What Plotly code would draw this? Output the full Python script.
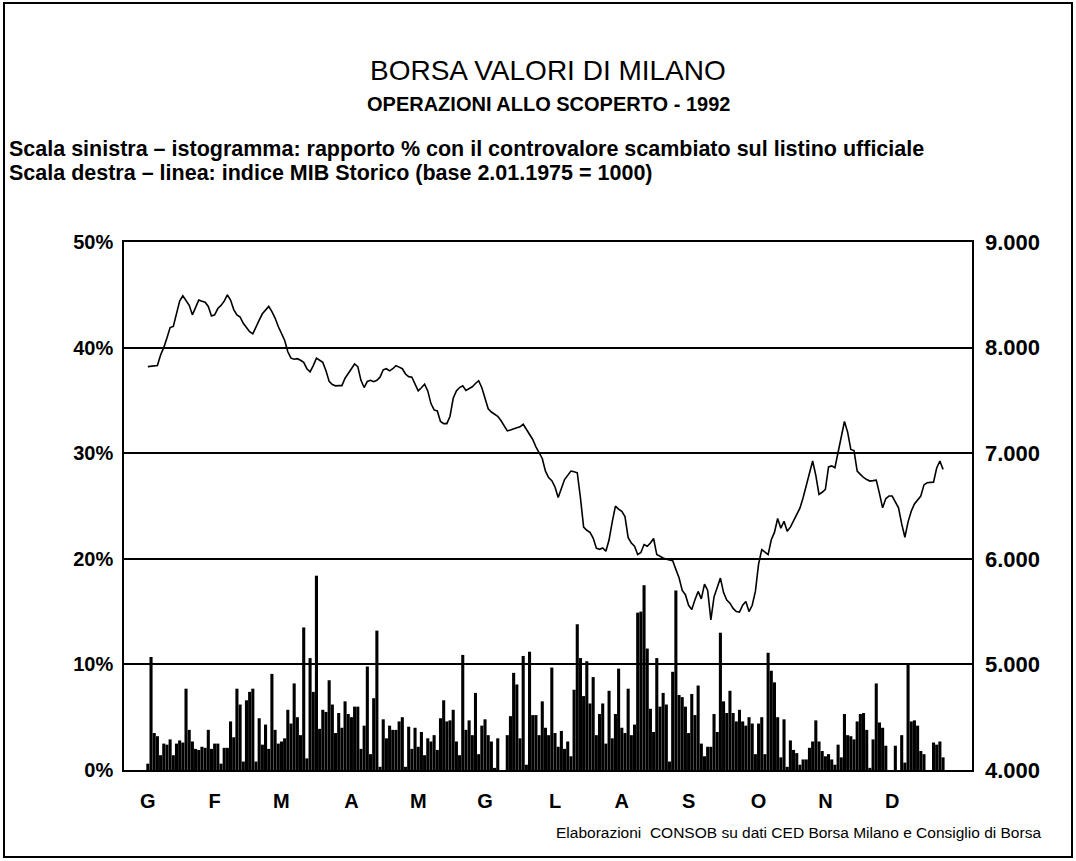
import plotly.graph_objects as go

# Month initials (Italian) and the index of the first trading day of each month
months = ["G", "F", "M", "A", "M", "G", "L", "A", "S", "O", "N", "D"]
month_first_day = [0, 21, 42, 64, 85, 106, 128, 149, 170, 192, 213, 234]

# Short selling as % of the value traded on the official list (left scale)
short_pct = [
    0.6, 10.7, 3.5, 3.2, 1.4, 2.5, 2.4, 2.9, 1.4, 2.5,
    2.8, 2.6, 7.7, 3.8, 2.7, 2.0, 1.9, 2.2, 2.1, 3.8,
    2.0, 2.5, 2.5, 0.6, 2.1, 2.1, 4.6, 3.1, 7.7, 6.2,
    0.8, 6.6, 7.4, 7.7, 0.8, 4.9, 2.4, 4.3, 2.0, 9.1,
    3.8, 2.5, 2.7, 3.0, 5.7, 4.4, 8.2, 5.0, 3.3, 13.5,
    1.1, 10.6, 7.4, 18.4, 3.9, 5.7, 5.5, 8.5, 6.2, 3.5,
    5.4, 4.0, 6.5, 5.3, 5.0, 6.0, 6.0, 2.0, 4.2, 9.8,
    1.5, 6.8, 13.2, 0.3, 4.8, 3.0, 4.2, 3.8, 3.8, 4.6,
    5.0, 0.3, 4.1, 2.0, 4.0, 2.2, 3.6, 1.4, 3.0, 2.7,
    3.3, 1.9, 4.9, 6.6, 4.6, 4.7, 5.7, 2.7, 1.4, 10.9,
    3.8, 4.7, 3.3, 7.3, 1.5, 4.2, 4.8, 3.3, 2.7, 0.2,
    3.0, 0.0, 0.0, 3.3, 5.1, 9.2, 8.1, 3.0, 10.8, 0.5,
    11.2, 5.2, 5.2, 3.3, 6.5,
    4.0, 3.3, 9.7, 3.5, 2.2, 3.7, 2.0, 2.7, 1.3, 7.6,
    13.8, 10.6, 7.0, 10.3, 6.3, 8.8, 3.3, 5.3, 6.3, 2.5,
    7.5, 3.0, 5.3, 9.6, 4.0, 3.5, 7.7, 3.3, 4.3, 14.9,
    15.0, 17.5, 11.5, 5.8, 3.6, 10.6, 6.0, 7.3, 6.2, 0.8,
    9.3, 17.0, 7.1, 6.9, 6.0, 3.5, 7.2, 5.2, 8.0, 2.5,
    1.3, 2.2, 2.2, 5.3, 3.6, 13.0, 6.5, 5.4, 7.5, 5.4,
    4.6, 5.7, 4.6,
    4.2, 5.0, 4.4, 1.5, 4.4, 5.0, 1.5, 11.1, 9.4, 8.3,
    5.0, 1.2, 4.8, 0.3, 2.8, 1.9, 1.6, 0.5, 1.0, 1.0,
    2.1, 2.7, 4.7, 2.7, 1.8, 1.3, 1.5, 1.0, 0.5, 2.4,
    1.2, 5.3, 3.3, 3.2, 2.9, 4.6, 5.3, 5.4, 3.8, 0.2,
    2.9, 8.2, 4.5, 4.0, 2.3, 0.0, 0.0, 2.3, 0.0, 3.3,
    0.7, 10.1, 4.6, 4.7, 4.2, 1.8, 1.5, 0.0, 0.0, 2.6,
    2.4, 2.7, 1.2,
]

# Indice MIB Storico, daily close (right scale)
mib_index = [
    7820, 7822, 7822, 7830, 7930, 8000, 8090, 8190, 8200, 8320,
    8440, 8490, 8440, 8400, 8310, 8380, 8450, 8440, 8430, 8390,
    8300, 8310, 8370, 8400, 8440, 8500, 8450, 8360, 8310, 8290,
    8230, 8190, 8150, 8130, 8200, 8260, 8320, 8360, 8390, 8340,
    8280, 8200, 8140, 8070, 7960, 7900, 7890, 7895, 7880, 7860,
    7800, 7770, 7830, 7900, 7880, 7860, 7780, 7680, 7650, 7638,
    7640, 7640, 7710, 7760, 7800, 7845, 7820, 7690, 7622, 7680,
    7690, 7677, 7690, 7720, 7790, 7800, 7780, 7800, 7828, 7815,
    7800, 7750, 7725, 7720, 7650, 7591, 7620, 7654, 7590, 7470,
    7410, 7400, 7300, 7280, 7280, 7350, 7520, 7590, 7622, 7638,
    7595, 7610, 7629, 7660, 7686, 7620, 7520, 7420, 7390, 7370,
    7350, 7310, 7260, 7211, 7220, 7227, 7240, 7250, 7274, 7227,
    7180, 7130, 7060, 7000, 6950, 6830, 6770, 6740, 6680, 6580,
    6660, 6750, 6790, 6831, 6825, 6815, 6578, 6300, 6270, 6250,
    6197, 6100, 6090, 6103, 6071, 6180, 6350, 6499, 6470, 6450,
    6400, 6200, 6150, 6119, 6040, 6060, 6135, 6119, 6150, 6192,
    6040, 6020, 6008, 5995, 5990, 5982, 5900, 5820, 5700, 5660,
    5560, 5520, 5612, 5691, 5620, 5760, 5700, 5422, 5640, 5740,
    5817, 5680, 5610, 5580, 5530, 5500, 5495, 5560, 5596, 5500,
    5560, 5691, 5950, 6087, 6060, 6040, 6180, 6250, 6382, 6290,
    6356, 6261, 6300, 6356, 6420, 6480, 6578, 6700, 6800, 6926,
    6790, 6610, 6630, 6657, 6870, 6880, 6863, 7005, 7150, 7300,
    7200, 7036, 7025, 6830, 6800, 6770, 6750, 6736, 6740, 6745,
    6620, 6483, 6570, 6594, 6594, 6540, 6483, 6330, 6204, 6350,
    6451, 6520, 6560, 6594, 6700, 6720, 6724, 6726, 6860, 6926,
    6847,
]

pct_ticks = [0, 10, 20, 30, 40, 50]
pct_labels = ["0%", "10%", "20%", "30%", "40%", "50%"]
mib_ticks = [4000, 5000, 6000, 7000, 8000, 9000]

days = list(range(len(short_pct)))
days_line = list(range(len(mib_index)))

W, H = 1076, 861
ML, MR, MT, MB = 124, 104, 242, 91
FONT = "Liberation Sans, Arial, sans-serif"


def px_x(px):
    return (px - ML) / (W - ML - MR)


def px_y(py):
    return (H - MB - py) / (H - MT - MB)


fig = go.Figure()
fig.add_bar(x=days, y=short_pct, marker=dict(color="black", line=dict(width=0)),
            yaxis="y", hoverinfo="skip")
fig.add_scatter(x=days_line, y=mib_index, mode="lines",
                line=dict(color="black", width=1.6), yaxis="y2", hoverinfo="skip")

fig.update_layout(
    width=W, height=H, autosize=False,
    margin=dict(l=ML, r=MR, t=MT, b=MB, pad=0),
    paper_bgcolor="white", plot_bgcolor="white",
    showlegend=False, bargap=0.03, separators=",.",
    font=dict(family=FONT, color="black"),
    xaxis=dict(range=[-7.5, 259.1], tickmode="array", tickvals=month_first_day,
               ticktext=[f"<b>{m}</b>" for m in months], tickfont=dict(size=20),
               ticks="", showgrid=False, zeroline=False, showline=True, mirror=True,
               linecolor="black", linewidth=1.5, ticklabelstandoff=12),
    yaxis=dict(range=[0, 50], tickmode="array", tickvals=pct_ticks,
               ticktext=[f"<b>{t}</b>" for t in pct_labels], tickfont=dict(size=20),
               ticks="", showgrid=True, gridcolor="black", gridwidth=1.5,
               zeroline=False, showline=True, mirror=True, linecolor="black",
               linewidth=1.5, ticklabelstandoff=5),
    yaxis2=dict(range=[4000, 9000], overlaying="y", side="right", tickmode="array",
                tickvals=mib_ticks, ticktext=[f"<b>{t:,}</b>".replace(",", ".") for t in mib_ticks],
                tickfont=dict(size=22), ticks="", showgrid=False, zeroline=False,
                showline=False, ticklabelstandoff=12),
)

fig.add_annotation(text="BORSA VALORI DI MILANO", x=px_x(548), y=px_y(71),
                   xref="paper", yref="paper", showarrow=False, font=dict(size=28),
                   xanchor="center", yanchor="middle")
fig.add_annotation(text="<b>OPERAZIONI ALLO SCOPERTO - 1992</b>", x=px_x(548), y=px_y(104),
                   xref="paper", yref="paper", showarrow=False, font=dict(size=20),
                   xanchor="center", yanchor="middle")
fig.add_annotation(text="<b>Scala sinistra – istogramma: rapporto % con il controvalore scambiato sul listino ufficiale</b>",
                   x=px_x(7), y=px_y(149), xref="paper", yref="paper", showarrow=False,
                   font=dict(size=21.5), xanchor="left", yanchor="middle")
fig.add_annotation(text="<b>Scala destra – linea: indice MIB Storico (base 2.01.1975 = 1000)</b>",
                   x=px_x(7), y=px_y(173), xref="paper", yref="paper", showarrow=False,
                   font=dict(size=21.5), xanchor="left", yanchor="middle")
fig.add_annotation(text="Elaborazioni  CONSOB su dati CED Borsa Milano e Consiglio di Borsa",
                   x=px_x(1043), y=px_y(832), xref="paper", yref="paper", showarrow=False,
                   font=dict(size=15.5), xanchor="right", yanchor="middle")

# Outer page frame
fig.add_shape(type="rect", xref="paper", yref="paper",
              x0=px_x(4), x1=px_x(1072), y0=px_y(857), y1=px_y(3),
              line=dict(color="black", width=2), layer="below")

fig.write_html("out.html")
